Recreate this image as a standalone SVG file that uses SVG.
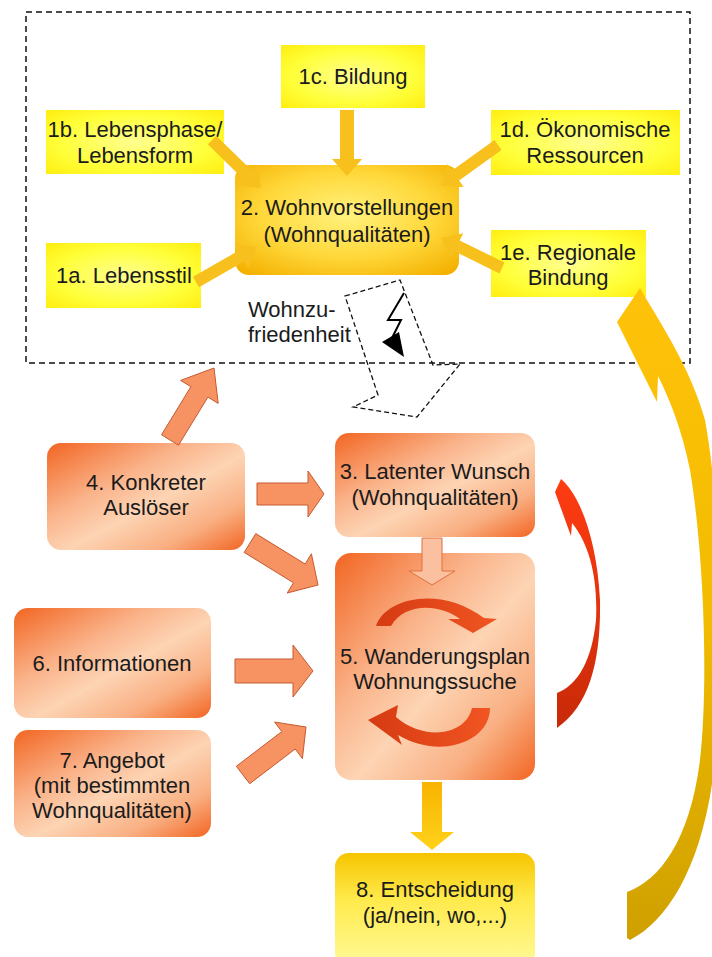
<svg xmlns="http://www.w3.org/2000/svg" width="712" height="957" viewBox="0 0 712 957">
<defs>
  <radialGradient id="gY" cx="50%" cy="50%" r="70%">
    <stop offset="0" stop-color="#FFFF90"/>
    <stop offset="0.6" stop-color="#FFFF3A"/>
    <stop offset="1" stop-color="#FFEE10"/>
  </radialGradient>
  <radialGradient id="g2" cx="50%" cy="45%" r="70%">
    <stop offset="0" stop-color="#FFF27E"/>
    <stop offset="0.55" stop-color="#FFD83A"/>
    <stop offset="1" stop-color="#F4B000"/>
  </radialGradient>
  <linearGradient id="gO" x1="0" y1="0" x2="1" y2="1">
    <stop offset="0" stop-color="#F26522"/>
    <stop offset="0.35" stop-color="#FAB38A"/>
    <stop offset="0.55" stop-color="#FDD4B4"/>
    <stop offset="0.78" stop-color="#F9AF82"/>
    <stop offset="1" stop-color="#F26522"/>
  </linearGradient>
  <linearGradient id="g8" x1="0" y1="0" x2="0" y2="1">
    <stop offset="0" stop-color="#F6C400"/>
    <stop offset="0.4" stop-color="#FFEA4A"/>
    <stop offset="1" stop-color="#FFFA9A"/>
  </linearGradient>
  <linearGradient id="gYA" x1="0" y1="0" x2="0" y2="1">
    <stop offset="0" stop-color="#F7B400"/>
    <stop offset="1" stop-color="#FFD21A"/>
  </linearGradient>
  <linearGradient id="gRed" x1="0" y1="0" x2="0" y2="1">
    <stop offset="0" stop-color="#FF3C12"/>
    <stop offset="1" stop-color="#C82A08"/>
  </linearGradient>
  <linearGradient id="gBig" x1="0" y1="0" x2="0" y2="1">
    <stop offset="0" stop-color="#FFC20A"/>
    <stop offset="0.5" stop-color="#F2BC00"/>
    <stop offset="1" stop-color="#CFA000"/>
  </linearGradient>
  <linearGradient id="gCirc" x1="0" y1="0" x2="1" y2="0">
    <stop offset="0" stop-color="#D63A12"/>
    <stop offset="1" stop-color="#F05522"/>
  </linearGradient>
</defs>
<style>
  .t{font-family:"Liberation Sans",Arial,sans-serif;font-size:22px;fill:#1b1b1b;text-anchor:middle}
  .tl{font-family:"Liberation Sans",Arial,sans-serif;font-size:22px;fill:#1b1b1b;text-anchor:start}
  .yb{fill:url(#gY)}
  .ob{fill:url(#gO)}
  .oa{fill:#F79263;stroke:#C55A30;stroke-width:1}
  .ya{fill:#F8C01C}
  .dash{fill:none;stroke:#111;stroke-width:1.5;stroke-dasharray:6 4}
  .dash2{fill:none;stroke:#111;stroke-width:1.3;stroke-dasharray:5 3}
</style>
<rect width="712" height="957" fill="#ffffff"/>
<rect id="frame" class="dash" x="26" y="12" width="664" height="351"/>

<g id="n1c"><rect class="yb" x="281" y="45" width="144" height="63"/><text class="t" x="353" y="84">1c. Bildung</text></g>
<g id="n1b"><rect class="yb" x="46" y="110" width="178" height="64"/><text class="t" x="135" y="137">1b. Lebensphase/</text><text class="t" x="135" y="163">Lebensform</text></g>
<g id="n1d"><rect class="yb" x="491" y="110" width="189" height="65"/><text class="t" x="585" y="137">1d. Ökonomische</text><text class="t" x="585" y="163">Ressourcen</text></g>
<g id="n1a"><rect class="yb" x="46" y="243" width="155" height="65"/><text class="t" x="124" y="283">1a. Lebensstil</text></g>
<g id="n1e"><rect class="yb" x="491" y="230" width="155" height="67"/><text class="t" x="568" y="260">1e. Regionale</text><text class="t" x="568" y="285">Bindung</text></g>
<g id="n2"><rect fill="url(#g2)" x="235" y="165" width="224" height="110" rx="14"/><text class="t" x="347" y="215">2. Wohnvorstellungen</text><text class="t" x="347" y="242">(Wohnqualitäten)</text></g>

<g id="n4"><rect class="ob" x="47" y="443" width="198" height="107" rx="14"/><text class="t" x="146" y="490">4. Konkreter</text><text class="t" x="146" y="515">Auslöser</text></g>
<g id="n3"><rect class="ob" x="335" y="433" width="200" height="104" rx="14"/><text class="t" x="435" y="479">3. Latenter Wunsch</text><text class="t" x="435" y="505">(Wohnqualitäten)</text></g>
<g id="n5"><rect class="ob" x="335" y="553" width="200" height="227" rx="16"/><text class="t" x="435" y="664">5. Wanderungsplan</text><text class="t" x="435" y="689">Wohnungssuche</text>
  <path fill="url(#gCirc)" d="M376,626 C385,598 440,585 484,618 L497,619 L473,633 L448,619 L460,619 C440,604 405,602 391,626 Z"/>
  <path fill="url(#gCirc)" d="M490,708 C490,742 440,760 398,735 L402,745 L368,720 L398,705 L396,717 C425,742 466,735 472,708 Z"/>
</g>
<g id="n6"><rect class="ob" x="14" y="608" width="197" height="110" rx="14"/><text class="t" x="112" y="671">6. Informationen</text></g>
<g id="n7"><rect class="ob" x="14" y="730" width="197" height="107" rx="14"/><text class="t" x="112" y="768">7. Angebot</text><text class="t" x="112" y="793">(mit bestimmten</text><text class="t" x="112" y="818">Wohnqualitäten)</text></g>
<g id="n8"><rect fill="url(#g8)" x="335" y="853" width="200" height="114" rx="14"/><text class="t" x="435" y="897">8. Entscheidung</text><text class="t" x="435" y="923">(ja/nein, wo,...)</text></g>

<g id="connectors">
  <polygon class="ya" points="354,110 354,159 362,159 347,176 332,159 340,159 340,110"/>
  <polygon class="ya" points="207.8,144.3 243.9,179.7 238.3,185.4 261,188 257.9,165.4 252.3,171.1 216.2,135.7"/>
  <polygon class="ya" points="494.5,140.1 452.1,170.6 447.4,164.1 441,186 463.8,186.9 459.1,180.4 501.5,149.9"/>
  <polygon class="ya" points="199,287.2 244.4,261.2 248.4,268.2 257,247 234.4,243.8 238.4,250.8 193,276.8"/>
  <polygon class="ya" points="504.6,262.6 459.7,240.5 463.3,233.3 441,238 450.9,258.5 454.5,251.3 499.4,273.4"/>

  <text class="tl" x="248" y="317">Wohnzu-</text>
  <text class="tl" x="248" y="342">friedenheit</text>
  <polygon class="dash2" points="345,296 400,280 433,365 460,364 417,417 353,407 378,395"/>
  <polyline fill="none" stroke="#000" stroke-width="2" points="404,293 388,320 401,320 392,338"/>
  <polygon fill="#000" points="382,342 399,332 404,357"/>

  <polygon class="oa" points="178.5,445.2 207.9,397.1 218.2,403.4 214,368 180.6,380.4 190.9,386.7 161.5,434.8"/>
  <polygon class="oa" points="257,505 308,505 308,517 324,494 308,471 308,483 257,483"/>
  <polygon class="oa" points="244.2,552.4 293.5,582.8 287.2,593 318,585 311.4,553.8 305.1,564 255.8,533.6"/>
  <polygon class="oa" points="235,683 293,683 293,697 313,671 293,645 293,659 235,659"/>
  <polygon class="oa" points="249.7,783.7 295.2,749 302.4,758.6 306,727 274.6,722 281.8,731.6 236.3,766.3"/>
  <polygon fill="#FBC0A0" stroke="#E0703A" stroke-width="1" points="442,538 442,571 455,571 432,585 409,571 422,571 422,538"/>
  <polygon fill="url(#gYA)" points="442,782 442,832 454,832 432,850 410,832 422,832 422,782"/>

  <path fill="url(#gRed)" d="M557,728 L557,693 C578,685 592,660 596,620 C598,580 590,545 572,523 L571,536 L555,492 L561,479 C580,495 597,540 600,600 C601,660 590,705 557,728 Z"/>
  <path fill="url(#gBig)" d="M627,938 L627,892 C660,880 690,840 700,760 C708,690 705,560 690,470 C682,430 670,400 658,376 L657,402 L617,322 L640,288 C655,315 690,365 705,420 C720,500 725,650 715,760 C705,860 670,920 630,940 Z"/>
</g>
</svg>
